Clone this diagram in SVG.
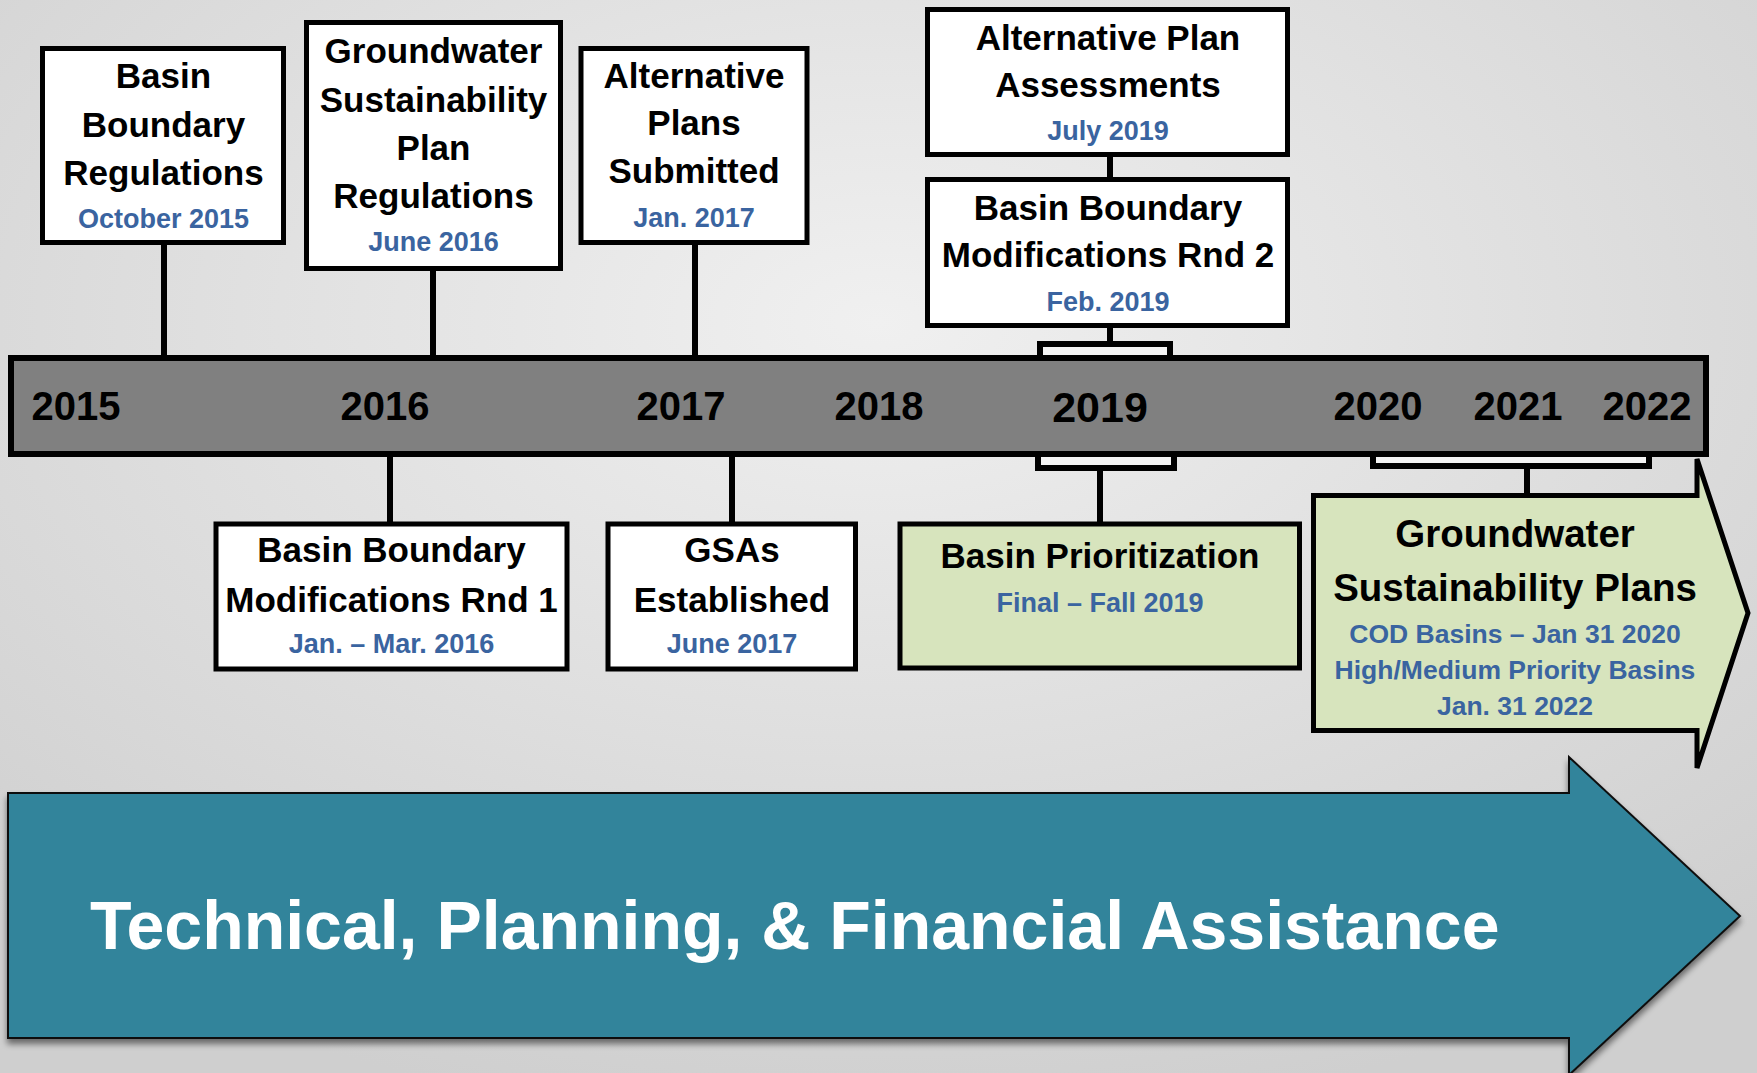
<svg xmlns="http://www.w3.org/2000/svg" width="1757" height="1073" viewBox="0 0 1757 1073">
<defs>
<radialGradient id="bg" cx="50%" cy="30%" r="75%">
<stop offset="0" stop-color="#f0f0f0"/>
<stop offset="1" stop-color="#cfcfcf"/>
</radialGradient>
<filter id="sh" x="-5%" y="-10%" width="110%" height="125%">
<feGaussianBlur in="SourceAlpha" stdDeviation="3"/>
<feOffset dx="0" dy="5" result="b"/>
<feComponentTransfer><feFuncA type="linear" slope="0.5"/></feComponentTransfer>
<feMerge><feMergeNode/><feMergeNode in="SourceGraphic"/></feMerge>
</filter>
<style>
.box{fill:#ffffff;stroke:#000;stroke-width:5}
.gbox{fill:#d7e4bd;stroke:#000;stroke-width:5}
.br{fill:#f3f3f3;stroke:#000;stroke-width:6}
.ln{stroke:#000;stroke-width:6;fill:none}
text{font-family:"Liberation Sans",Arial,sans-serif;font-weight:bold;text-anchor:middle}
.t{font-size:35px;fill:#000}
.d{font-size:27px;fill:#3a64a0}
.y{font-size:40px;fill:#000}
</style>
</defs>
<rect x="0" y="0" width="1757" height="1073" fill="url(#bg)"/>

<g id="assistance-arrow">
<path d="M8,793 L1569,793 L1569,757 L1740,916 L1569,1075 L1569,1038 L8,1038 Z" fill="#31849b" stroke="#111" stroke-width="2" filter="url(#sh)"/>
<text x="90" y="949" style="font-size:68px;fill:#ffffff;text-anchor:start">Technical, Planning, &amp; Financial Assistance</text>
</g>

<g id="connectors">
<line class="ln" x1="164" y1="243" x2="164" y2="358"/>
<line class="ln" x1="433" y1="268" x2="433" y2="358"/>
<line class="ln" x1="695" y1="243" x2="695" y2="358"/>
<line class="ln" x1="1110" y1="155" x2="1110" y2="180"/>
<line class="ln" x1="1110" y1="326" x2="1110" y2="345"/>
<line class="ln" x1="390" y1="454" x2="390" y2="525"/>
<line class="ln" x1="732" y1="454" x2="732" y2="525"/>
<line class="ln" x1="1100" y1="466" x2="1100" y2="525"/>
<line class="ln" x1="1527" y1="464" x2="1527" y2="496"/>
<rect class="br" x="1040" y="344" width="130" height="16"/>
<rect class="br" x="1038" y="452" width="136" height="16"/>
<rect class="br" x="1373" y="452" width="276" height="14"/>
</g>

<g id="timeline">
<rect x="11" y="358" width="1695" height="96" fill="#808080" stroke="#000" stroke-width="6"/>
<text class="y" x="76" y="420">2015</text>
<text class="y" x="385" y="420">2016</text>
<text class="y" x="681" y="420">2017</text>
<text class="y" x="879" y="420">2018</text>
<text class="y" x="1100" y="422" style="font-size:43px">2019</text>
<text class="y" x="1378" y="420">2020</text>
<text class="y" x="1518" y="420">2021</text>
<text class="y" x="1647" y="420">2022</text>
</g>

<g id="basin-boundary-regulations">
<rect class="box" x="42.5" y="48.5" width="241" height="194"/>
<text class="t" x="163.5" y="88">Basin</text>
<text class="t" x="163.5" y="137">Boundary</text>
<text class="t" x="163.5" y="185">Regulations</text>
<text class="d" x="163.5" y="228">October 2015</text>
</g>

<g id="gsp-regulations">
<rect class="box" x="306.5" y="22.5" width="254" height="246"/>
<text class="t" x="433.5" y="63">Groundwater</text>
<text class="t" x="433.5" y="112">Sustainability</text>
<text class="t" x="433.5" y="160">Plan</text>
<text class="t" x="433.5" y="208">Regulations</text>
<text class="d" x="433.5" y="251">June 2016</text>
</g>

<g id="alternative-plans-submitted">
<rect class="box" x="581" y="48.5" width="226" height="194"/>
<text class="t" x="694" y="88">Alternative</text>
<text class="t" x="694" y="135">Plans</text>
<text class="t" x="694" y="183">Submitted</text>
<text class="d" x="694" y="227">Jan. 2017</text>
</g>

<g id="alternative-plan-assessments">
<rect class="box" x="927.5" y="9.5" width="360" height="145"/>
<text class="t" x="1108" y="50">Alternative Plan</text>
<text class="t" x="1108" y="97">Assessments</text>
<text class="d" x="1108" y="140">July 2019</text>
</g>

<g id="basin-boundary-mod-rnd2">
<rect class="box" x="927.5" y="179.5" width="360" height="146"/>
<text class="t" x="1108" y="220">Basin Boundary</text>
<text class="t" x="1108" y="267">Modifications Rnd 2</text>
<text class="d" x="1108" y="311">Feb. 2019</text>
</g>

<g id="basin-boundary-mod-rnd1">
<rect class="box" x="216" y="524" width="351" height="145"/>
<text class="t" x="391.5" y="562">Basin Boundary</text>
<text class="t" x="391.5" y="612">Modifications Rnd 1</text>
<text class="d" x="391.5" y="653">Jan. – Mar. 2016</text>
</g>

<g id="gsas-established">
<rect class="box" x="608" y="524" width="247.5" height="145"/>
<text class="t" x="732" y="562">GSAs</text>
<text class="t" x="732" y="612">Established</text>
<text class="d" x="732" y="653">June 2017</text>
</g>

<g id="basin-prioritization">
<rect class="gbox" x="900" y="524" width="399.5" height="144"/>
<text class="t" x="1100" y="568">Basin Prioritization</text>
<text class="d" x="1100" y="612">Final – Fall 2019</text>
</g>

<g id="gsp">
<path class="gbox" d="M1313.5,495.5 L1697,495.5 L1697,459 L1748,613 L1697,768 L1697,730.5 L1313.5,730.5 Z"/>
<text x="1515" y="547" style="font-size:38.5px">Groundwater</text>
<text x="1515" y="601" style="font-size:38.5px">Sustainability Plans</text>
<text class="d" x="1515" y="643" style="font-size:26.5px">COD Basins – Jan 31 2020</text>
<text class="d" x="1515" y="679" style="font-size:26.5px">High/Medium Priority Basins</text>
<text class="d" x="1515" y="715" style="font-size:26.5px">Jan. 31 2022</text>
</g>
</svg>
